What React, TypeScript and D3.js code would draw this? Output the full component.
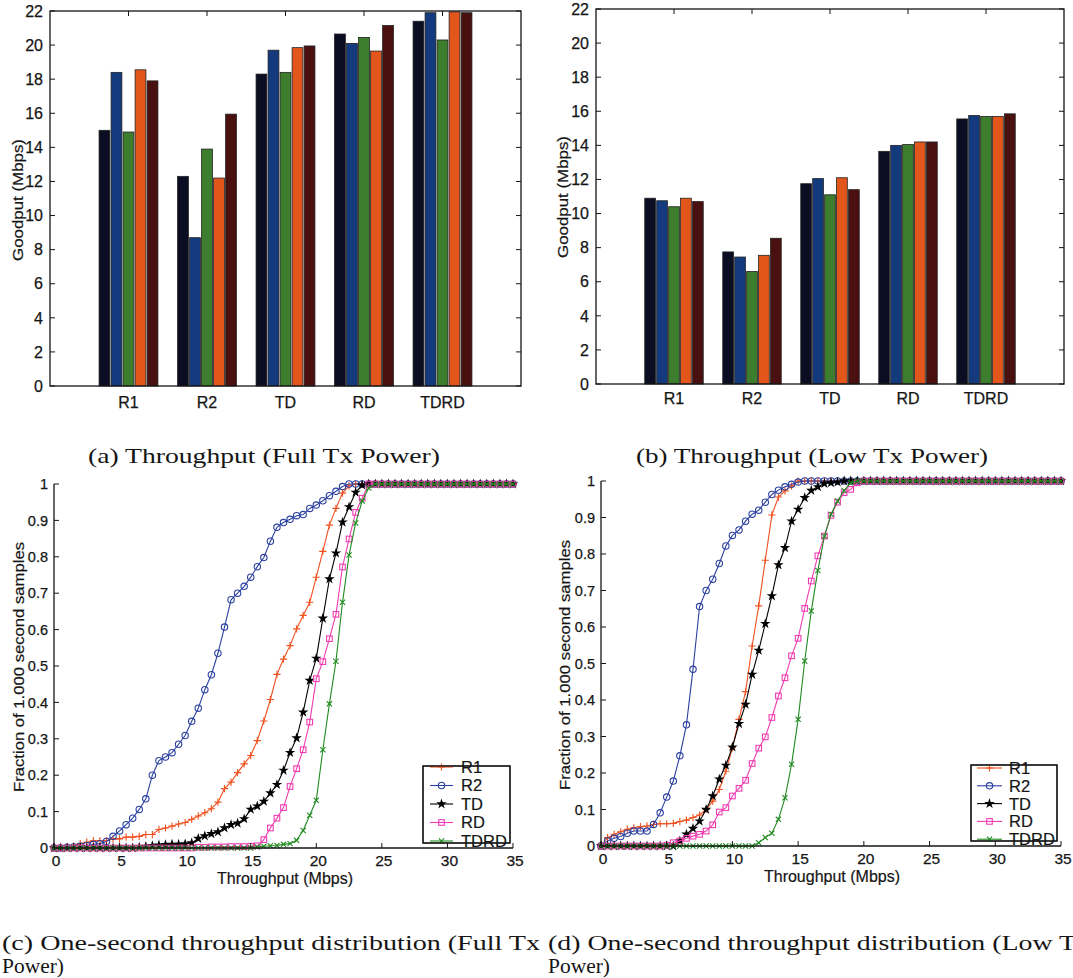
import React from 'react';
import * as d3 from 'd3';

const SANS = "'Liberation Sans', Arial, Helvetica, sans-serif";
const SERIF = "'Liberation Serif', 'DejaVu Serif', serif";

// ---------- Bar charts (a), (b) ----------
const barCategories = ['R1', 'R2', 'TD', 'RD', 'TDRD'];
const barColors = ['#0b0d22', '#123a7c', '#3c7d2e', '#e2561c', '#4a1010'];
const goodputTicks = [0, 2, 4, 6, 8, 10, 12, 14, 16, 18, 20, 22];

// rows = categories, columns = the five bars of each group
const fullTxGoodput = [
  [15.0, 18.4, 14.9, 18.55, 17.9],
  [12.3, 8.7, 13.9, 12.2, 15.95],
  [18.3, 19.7, 18.4, 19.85, 19.95],
  [20.65, 20.1, 20.45, 19.65, 21.15],
  [21.4, 21.9, 20.3, 21.95, 21.9],
];
const lowTxGoodput = [
  [10.9, 10.75, 10.4, 10.9, 10.7],
  [7.75, 7.45, 6.6, 7.55, 8.55],
  [11.75, 12.05, 11.1, 12.1, 11.4],
  [13.65, 14.0, 14.05, 14.2, 14.2],
  [15.55, 15.75, 15.7, 15.7, 15.85],
];

// ---------- CDF charts (c), (d) ----------
const cdfNames = ['R1', 'R2', 'TD', 'RD', 'TDRD'];
const cdfColors = ['#f0501e', '#2b40a0', '#000000', '#f03cb0', '#1f8a1f'];
const cdfMarkers = ['plus', 'circle', 'star', 'square', 'x'];
const fractionTicks = [0, 0.1, 0.2, 0.3, 0.4, 0.5, 0.6, 0.7, 0.8, 0.9, 1];
const throughputTicks = [0, 5, 10, 15, 20, 25, 30, 35];

const cdfX = [
  0, 0.5, 1, 1.5, 2, 2.5, 3, 3.5, 4, 4.5,
  5, 5.5, 6, 6.5, 7, 7.5, 8, 8.5, 9, 9.5,
  10, 10.5, 11, 11.5, 12, 12.5, 13, 13.5, 14, 14.5,
  15, 15.5, 16, 16.5, 17, 17.5, 18, 18.5, 19, 19.5,
  20, 20.5, 21, 21.5, 22, 22.5, 23, 23.5, 24, 24.5,
  25, 25.5, 26, 26.5, 27, 27.5, 28, 28.5, 29, 29.5,
  30, 30.5, 31, 31.5, 32, 32.5, 33, 33.5, 34, 34.5,
  35,
];

// Full Tx power
const fullR1 = [
  0, 0, 0.003, 0.005, 0.012, 0.016, 0.02, 0.02, 0.02, 0.025,
  0.025, 0.03, 0.03, 0.032, 0.037, 0.037, 0.051, 0.055, 0.06, 0.066,
  0.07, 0.079, 0.088, 0.097, 0.108, 0.126, 0.163, 0.181, 0.207, 0.231,
  0.254, 0.295, 0.349, 0.408, 0.477, 0.519, 0.556, 0.602, 0.639, 0.675,
  0.744, 0.815, 0.887, 0.933, 0.975, 0.995, 1, 1, 1, 1,
  1, 1, 1, 1, 1, 1, 1, 1, 1, 1,
  1, 1, 1, 1, 1, 1, 1, 1, 1, 1,
  1,
];
const fullR2 = [
  0, 0, 0.002, 0.003, 0.005, 0.007, 0.01, 0.012, 0.018, 0.032,
  0.047, 0.064, 0.082, 0.106, 0.135, 0.2, 0.24, 0.25, 0.262, 0.285,
  0.309, 0.348, 0.384, 0.435, 0.476, 0.535, 0.607, 0.682, 0.7, 0.719,
  0.744, 0.773, 0.798, 0.843, 0.881, 0.894, 0.903, 0.913, 0.916, 0.933,
  0.942, 0.954, 0.968, 0.98, 0.993, 1, 1, 1, 1, 1,
  1, 1, 1, 1, 1, 1, 1, 1, 1, 1,
  1, 1, 1, 1, 1, 1, 1, 1, 1, 1,
  1,
];
const fullTD = [
  0, 0, 0, 0, 0, 0, 0, 0, 0, 0,
  0, 0, 0, 0.002, 0.004, 0.006, 0.008, 0.009, 0.01, 0.01,
  0.011, 0.014, 0.026, 0.033, 0.039, 0.044, 0.055, 0.064, 0.068, 0.08,
  0.106, 0.115, 0.128, 0.151, 0.174, 0.213, 0.262, 0.302, 0.373, 0.46,
  0.521, 0.631, 0.739, 0.81, 0.895, 0.937, 0.977, 0.997, 1, 1,
  1, 1, 1, 1, 1, 1, 1, 1, 1, 1,
  1, 1, 1, 1, 1, 1, 1, 1, 1, 1,
  1,
];
const fullRD = [
  0, 0, 0, 0, 0, 0, 0, 0, 0, 0,
  0, 0, 0, 0, 0, 0, 0, 0, 0, 0,
  0, 0, 0.002, 0.002, 0.003, 0.003, 0.003, 0.004, 0.004, 0.004,
  0.005, 0.006, 0.023, 0.055, 0.082, 0.111, 0.169, 0.218, 0.27, 0.346,
  0.465, 0.512, 0.575, 0.642, 0.772, 0.849, 0.922, 0.961, 1, 1,
  1, 1, 1, 1, 1, 1, 1, 1, 1, 1,
  1, 1, 1, 1, 1, 1, 1, 1, 1, 1,
  1,
];
const fullTDRD = [
  0, 0, 0, 0, 0, 0, 0, 0, 0, 0,
  0, 0, 0, 0, 0, 0, 0, 0, 0, 0,
  0, 0, 0, 0, 0, 0, 0, 0, 0, 0,
  0, 0.003, 0.005, 0.006, 0.007, 0.01, 0.012, 0.021, 0.048, 0.09,
  0.131, 0.27, 0.396, 0.513, 0.675, 0.805, 0.893, 0.953, 0.989, 1,
  1, 1, 1, 1, 1, 1, 1, 1, 1, 1,
  1, 1, 1, 1, 1, 1, 1, 1, 1, 1,
  1,
];

// Low Tx power
const lowR1 = [
  0, 0.023, 0.032, 0.039, 0.046, 0.05, 0.053, 0.055, 0.059, 0.061,
  0.061, 0.062, 0.067, 0.071, 0.078, 0.085, 0.1, 0.123, 0.155, 0.205,
  0.269, 0.347, 0.423, 0.548, 0.658, 0.783, 0.907, 0.956, 0.973, 0.986,
  1, 1, 1, 1, 1, 1, 1, 1, 1, 1,
  1, 1, 1, 1, 1, 1, 1, 1, 1, 1,
  1, 1, 1, 1, 1, 1, 1, 1, 1, 1,
  1, 1, 1, 1, 1, 1, 1, 1, 1, 1,
  1,
];
const lowR2 = [
  0, 0.014, 0.021, 0.026, 0.035, 0.041, 0.041, 0.041, 0.059, 0.091,
  0.134, 0.178, 0.247, 0.332, 0.484, 0.656, 0.7, 0.731, 0.774, 0.822,
  0.851, 0.866, 0.89, 0.909, 0.92, 0.942, 0.963, 0.975, 0.984, 0.991,
  0.997, 1, 1, 1, 1, 1, 1, 1, 1, 1,
  1, 1, 1, 1, 1, 1, 1, 1, 1, 1,
  1, 1, 1, 1, 1, 1, 1, 1, 1, 1,
  1, 1, 1, 1, 1, 1, 1, 1, 1, 1,
  1,
];
const lowTD = [
  0, 0, 0, 0, 0, 0, 0, 0, 0, 0,
  0, 0, 0.014, 0.032, 0.048, 0.068, 0.1, 0.137, 0.183, 0.221,
  0.271, 0.335, 0.388, 0.47, 0.536, 0.609, 0.685, 0.77, 0.817, 0.89,
  0.922, 0.954, 0.974, 0.984, 0.993, 0.995, 0.997, 1, 1, 1,
  1, 1, 1, 1, 1, 1, 1, 1, 1, 1,
  1, 1, 1, 1, 1, 1, 1, 1, 1, 1,
  1, 1, 1, 1, 1, 1, 1, 1, 1, 1,
  1,
];
const lowRD = [
  0, 0, 0, 0, 0, 0, 0, 0, 0, 0,
  0.002, 0.009, 0.014, 0.021, 0.027, 0.032, 0.041, 0.058, 0.093, 0.105,
  0.137, 0.158, 0.18, 0.226, 0.268, 0.299, 0.352, 0.411, 0.461, 0.521,
  0.569, 0.651, 0.726, 0.795, 0.849, 0.906, 0.942, 0.968, 0.977, 0.995,
  1, 1, 1, 1, 1, 1, 1, 1, 1, 1,
  1, 1, 1, 1, 1, 1, 1, 1, 1, 1,
  1, 1, 1, 1, 1, 1, 1, 1, 1, 1,
  1,
];
const lowTDRD = [
  0, 0, 0, 0, 0, 0, 0, 0, 0, 0,
  0, 0, 0, 0, 0, 0, 0, 0, 0, 0,
  0, 0, 0, 0, 0.009, 0.023, 0.035, 0.073, 0.132, 0.224,
  0.347, 0.507, 0.644, 0.755, 0.849, 0.909, 0.945, 0.974, 0.995, 1,
  1, 1, 1, 1, 1, 1, 1, 1, 1, 1,
  1, 1, 1, 1, 1, 1, 1, 1, 1, 1,
  1, 1, 1, 1, 1, 1, 1, 1, 1, 1,
  1,
];

const fullSeries = [fullR1, fullR2, fullTD, fullRD, fullTDRD];
const lowSeries = [lowR1, lowR2, lowTD, lowRD, lowTDRD];

const captionA = '(a) Throughput (Full Tx Power)';
const captionB = '(b) Throughput (Low Tx Power)';
const captionC1 = '(c) One-second throughput distribution (Full Tx';
const captionD1 = '(d) One-second throughput distribution (Low Tx';
const captionPower = 'Power)';

const INK = '#151515';

type BarProps = {
  data: number[][];
  left: number; right: number; top: number; bottom: number;
  ylabX: number; ylabY: number; catBase: number;
};

function BarPanel({ data, left, right, top, bottom, ylabX, ylabY, catBase }: BarProps) {
  const x = d3.scaleLinear().domain([0, 6]).range([left, right]);
  const y = d3.scaleLinear().domain([0, 22]).range([bottom, top]);
  const unit = x(1) - x(0);
  const inner = d3.scaleBand<number>().domain([0, 1, 2, 3, 4])
    .range([-0.375 * unit, 0.375 * unit]).paddingInner(0.1);
  return (
    <g>
      {data.map((row, ci) => (
        <g key={ci}>
          {row.map((v, si) => (
            <rect key={si}
              x={x(ci + 1) + (inner(si) as number)}
              y={y(v)}
              width={inner.bandwidth()}
              height={y(0) - y(v)}
              fill={barColors[si]} stroke="#222" strokeWidth={0.8} />
          ))}
        </g>
      ))}
      <rect x={left} y={top} width={right - left} height={bottom - top}
        fill="none" stroke={INK} strokeWidth={1.3} />
      {goodputTicks.map(t => (
        <g key={t}>
          <line x1={left} x2={left + 5} y1={y(t)} y2={y(t)} stroke={INK} />
          <line x1={right} x2={right - 5} y1={y(t)} y2={y(t)} stroke={INK} />
          <text x={left - 7} y={y(t)} dy="0.36em" textAnchor="end"
            fontFamily={SANS} fontSize={16} fill={INK} stroke={INK} strokeWidth={0.25}>{t}</text>
        </g>
      ))}
      {barCategories.map((c, i) => (
        <g key={c}>
          <line x1={x(i + 1)} x2={x(i + 1)} y1={top} y2={top + 5} stroke={INK} />
          <text x={x(i + 1)} y={catBase} textAnchor="middle"
            fontFamily={SANS} fontSize={16} fill={INK} stroke={INK} strokeWidth={0.25}>{c}</text>
        </g>
      ))}
      <text transform={`translate(${ylabX},${ylabY}) rotate(-90)`} textAnchor="middle"
        dominantBaseline="central" fontFamily={SANS} fontSize={14.5}
        textLength={122} lengthAdjust="spacingAndGlyphs" fill={INK} stroke={INK} strokeWidth={0.2}>Goodput (Mbps)</text>
    </g>
  );
}

function markerEl(kind: string, px: number, py: number, color: string, key: number) {
  const s = 3.6;
  if (kind === 'plus') {
    return <path key={key} d={`M${px - s},${py}H${px + s}M${px},${py - s}V${py + s}`}
      stroke={color} strokeWidth={1.1} fill="none" />;
  }
  if (kind === 'circle') {
    return <circle key={key} cx={px} cy={py} r={3.2} stroke={color} strokeWidth={1.1} fill="none" />;
  }
  if (kind === 'square') {
    return <rect key={key} x={px - 2.8} y={py - 2.8} width={5.6} height={5.6}
      stroke={color} strokeWidth={1.1} fill="none" />;
  }
  if (kind === 'x') {
    const t = 2.6;
    return <path key={key} d={`M${px - t},${py - t}L${px + t},${py + t}M${px - t},${py + t}L${px + t},${py - t}`}
      stroke={color} strokeWidth={1.1} fill="none" />;
  }
  const star = d3.symbol().type(d3.symbolStar).size(34)() as string;
  return <path key={key} d={star} transform={`translate(${px},${py})`} fill={color} />;
}

type CdfProps = {
  series: number[][];
  left: number; right: number; top: number; bottom: number;
  ylabX: number; ylabY: number; tickBase: number; xlabX: number; xlabBase: number;
  legend: { x0: number; x1: number; y0: number; y1: number; first: number; step: number; l0: number; l1: number; tx: number };
};

function CdfPanel({ series, left, right, top, bottom, ylabX, ylabY, tickBase, xlabX, xlabBase, legend }: CdfProps) {
  const x = d3.scaleLinear().domain([0, 35]).range([left, right]);
  const y = d3.scaleLinear().domain([0, 1]).range([bottom, top]);
  const line = d3.line<number>().x((_, i) => x(cdfX[i])).y(d => y(d));
  return (
    <g>
      {series.map((vals, si) => (
        <g key={si}>
          <path d={line(vals) as string} fill="none" stroke={cdfColors[si]} strokeWidth={1.1} />
          {vals.map((v, i) => markerEl(cdfMarkers[si], x(cdfX[i]), y(v), cdfColors[si], i))}
        </g>
      ))}
      <line x1={left} x2={left} y1={bottom} y2={top} stroke={INK} strokeWidth={1.3} />
      <line x1={left} x2={right} y1={bottom} y2={bottom} stroke={INK} strokeWidth={1.3} />
      {fractionTicks.map(t => (
        <g key={t}>
          <line x1={left} x2={left + 5} y1={y(t)} y2={y(t)} stroke={INK} />
          <text x={left - 6} y={y(t)} dy="0.36em" textAnchor="end"
            fontFamily={SANS} fontSize={14.5} fill={INK} stroke={INK} strokeWidth={0.25}>{d3.format('~g')(t)}</text>
        </g>
      ))}
      {throughputTicks.map(t => (
        <g key={t}>
          <line x1={x(t)} x2={x(t)} y1={bottom} y2={bottom - 5} stroke={INK} />
          <text x={x(t) + 2} y={tickBase} textAnchor="middle"
            fontFamily={SANS} fontSize={15.5} fill={INK} stroke={INK} strokeWidth={0.25}>{t}</text>
        </g>
      ))}
      <text x={xlabX} y={xlabBase} textAnchor="middle" fontFamily={SANS} fontSize={16}
        fill={INK} stroke={INK} strokeWidth={0.2}>Throughput (Mbps)</text>
      <text transform={`translate(${ylabX},${ylabY}) rotate(-90)`} textAnchor="middle"
        dominantBaseline="central" fontFamily={SANS} fontSize={14.5}
        textLength={250} lengthAdjust="spacingAndGlyphs" fill={INK} stroke={INK} strokeWidth={0.2}>Fraction of 1.000 second samples</text>
      <rect x={legend.x0} y={legend.y0} width={legend.x1 - legend.x0} height={legend.y1 - legend.y0}
        fill="#fff" stroke={INK} strokeWidth={1.2} />
      {cdfNames.map((n, i) => {
        const ly = legend.first + i * legend.step;
        return (
          <g key={n}>
            <line x1={legend.l0} x2={legend.l1} y1={ly} y2={ly} stroke={cdfColors[i]} strokeWidth={1.1} />
            {markerEl(cdfMarkers[i], (legend.l0 + legend.l1) / 2, ly, cdfColors[i], 0)}
            <text x={legend.tx} y={ly} dy="0.36em" fontFamily={SANS} fontSize={16.5} fill={INK}
              stroke={INK} strokeWidth={0.2}>{n}</text>
          </g>
        );
      })}
      <rect x={legend.x0} y={legend.y0} width={legend.x1 - legend.x0} height={legend.y1 - legend.y0}
        fill="none" stroke={INK} strokeWidth={1.2} />
    </g>
  );
}

export default function App() {
  return (
    <svg width={1073} height={978} viewBox="0 0 1073 978"
      style={{ position: 'absolute', left: 0, top: 0, background: '#fff' }}>
      <rect x={0} y={0} width={1073} height={978} fill="#fff" />
      <BarPanel data={fullTxGoodput} left={50} right={521} top={11} bottom={386}
        ylabX={18} ylabY={200} catBase={408} />
      <BarPanel data={lowTxGoodput} left={596} right={1064} top={9} bottom={384}
        ylabX={563} ylabY={197} catBase={404} />
      <CdfPanel series={fullSeries} left={54} right={513} top={484} bottom={848}
        ylabX={19} ylabY={667} tickBase={866} xlabX={285} xlabBase={884}
        legend={{ x0: 423, x1: 510, y0: 766, y1: 843, first: 767, step: 18.5, l0: 430, l1: 453, tx: 461 }} />
      <CdfPanel series={lowSeries} left={601} right={1061} top={481} bottom={846}
        ylabX={565} ylabY={665} tickBase={864} xlabX={832} xlabBase={882}
        legend={{ x0: 971, x1: 1057, y0: 765, y1: 841, first: 768, step: 17.8, l0: 977, l1: 1002, tx: 1009 }} />
      <text x={88} y={463} fontFamily={SERIF} fontSize={22} textLength={352}
        lengthAdjust="spacingAndGlyphs" fill={INK}>{captionA}</text>
      <text x={636} y={463} fontFamily={SERIF} fontSize={22} textLength={352}
        lengthAdjust="spacingAndGlyphs" fill={INK}>{captionB}</text>
      <text x={2} y={950} fontFamily={SERIF} fontSize={20} textLength={538}
        lengthAdjust="spacingAndGlyphs" fill={INK}>{captionC1}</text>
      <text x={2} y={973} fontFamily={SERIF} fontSize={20} textLength={62}
        lengthAdjust="spacingAndGlyphs" fill={INK}>{captionPower}</text>
      <text x={548} y={950} fontFamily={SERIF} fontSize={20} textLength={542}
        lengthAdjust="spacingAndGlyphs" fill={INK}>{captionD1}</text>
      <text x={548} y={973} fontFamily={SERIF} fontSize={20} textLength={62}
        lengthAdjust="spacingAndGlyphs" fill={INK}>{captionPower}</text>
    </svg>
  );
}
